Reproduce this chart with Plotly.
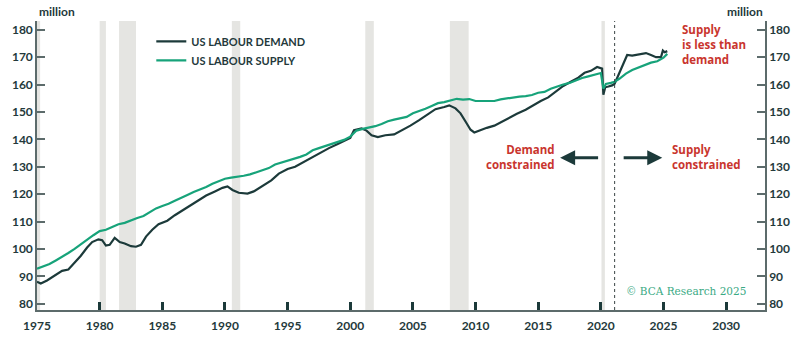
import plotly.graph_objects as go

# ---- data (million persons) ----
demand_years = [1975.0, 1975.3, 1975.8, 1976.5, 1977.0, 1977.5, 1978.0, 1978.5, 1979.0, 1979.4,
                1979.9, 1980.2, 1980.5, 1980.8, 1981.2, 1981.6, 1982.0, 1982.5, 1982.9, 1983.3,
                1983.7, 1984.2, 1984.7, 1985.4, 1986.0, 1986.6, 1987.2, 1987.9, 1988.5, 1989.2,
                1989.8, 1990.2, 1990.6, 1991.1, 1991.8, 1992.3, 1993.0, 1993.7, 1994.3, 1995.0,
                1995.6, 1996.2, 1996.9, 1997.6, 1998.3, 1999.0, 1999.6, 2000.0, 2000.3, 2000.9,
                2001.3, 2001.7, 2002.2, 2002.8, 2003.5, 2004.1, 2004.8, 2005.5, 2006.2, 2006.8,
                2007.5, 2007.9, 2008.4, 2008.8, 2009.2, 2009.6, 2009.9, 2010.3, 2010.9, 2011.5,
                2012.1, 2012.7, 2013.3, 2014.0, 2014.6, 2015.2, 2015.8, 2016.4, 2017.0, 2017.6,
                2018.2, 2018.7, 2019.2, 2019.7, 2019.95, 2020.1, 2020.2, 2020.35, 2020.6, 2020.9,
                2021.1, 2021.4, 2021.8, 2022.1, 2022.5, 2022.9, 2023.2, 2023.6, 2024.0, 2024.4,
                2024.8, 2024.95, 2025.1, 2025.3]
demand_values = [88.0, 87.4, 88.5, 90.5, 92.0, 92.5, 95.0, 97.5, 100.5, 102.5,
                 103.5, 103.2, 101.2, 101.5, 104.0, 102.5, 102.0, 101.0, 100.8, 101.5,
                 104.5, 107.0, 109.0, 110.3, 112.3, 114.0, 116.0, 117.8, 119.5, 121.0,
                 122.3, 122.8, 121.5, 120.5, 120.2, 121.0, 123.0, 125.0, 127.5, 129.2,
                 130.0, 131.5, 133.5, 135.2, 136.8, 138.3, 139.5, 140.5, 143.3, 144.0,
                 143.2, 141.5, 140.8, 141.5, 141.8, 143.2, 145.0, 147.0, 149.3, 151.0,
                 151.8, 152.4, 151.3, 149.5, 146.5, 143.5, 142.5, 143.3, 144.2, 145.0,
                 146.5, 148.0, 149.3, 150.8, 152.5, 154.0, 155.3, 157.5, 159.5, 161.0,
                 162.5, 164.3, 165.0, 166.4, 166.2, 165.8, 156.3, 159.0, 159.3, 159.7,
                 160.3, 163.5, 168.0, 170.8, 170.6, 170.9, 171.3, 171.5, 170.8, 170.0,
                 170.0, 172.4, 171.8, 172.2]

supply_years = [1975.0, 1975.5, 1976.0, 1976.5, 1977.0, 1977.5, 1978.0, 1978.5, 1979.0, 1979.5,
                1980.0, 1980.5, 1981.0, 1981.5, 1982.0, 1982.5, 1983.0, 1983.5, 1984.0, 1984.5,
                1985.0, 1985.5, 1986.0, 1986.5, 1987.0, 1987.5, 1988.0, 1988.5, 1989.0, 1989.5,
                1990.0, 1990.5, 1991.0, 1991.5, 1992.0, 1992.5, 1993.0, 1993.5, 1994.0, 1994.5,
                1995.0, 1995.5, 1996.0, 1996.5, 1997.0, 1997.5, 1998.0, 1998.5, 1999.0, 1999.5,
                2000.0, 2000.5, 2001.0, 2001.5, 2002.0, 2002.5, 2003.0, 2003.5, 2004.0, 2004.5,
                2005.0, 2005.5, 2006.0, 2006.5, 2007.0, 2007.5, 2008.0, 2008.5, 2009.0, 2009.5,
                2010.0, 2010.5, 2011.0, 2011.5, 2012.0, 2012.5, 2013.0, 2013.5, 2014.0, 2014.5,
                2015.0, 2015.5, 2016.0, 2016.5, 2017.0, 2017.5, 2018.0, 2018.5, 2019.0, 2019.5,
                2020.0, 2020.2, 2020.4, 2020.8, 2021.1, 2021.5, 2022.0, 2022.5, 2023.0, 2023.5,
                2024.0, 2024.5, 2025.0, 2025.3]
supply_values = [92.8, 93.8, 94.5, 95.8, 97.0, 98.5, 100.0, 101.7, 103.5, 105.0,
                 106.5, 107.0, 108.0, 109.0, 109.5, 110.5, 111.3, 112.0, 113.3, 114.8,
                 115.7, 116.5, 117.6, 118.8, 119.7, 120.8, 121.7, 122.6, 123.8, 124.8,
                 125.6, 126.0, 126.3, 126.7, 127.2, 128.0, 128.6, 129.5, 130.8, 131.5,
                 132.2, 132.8, 133.6, 134.5, 136.0, 136.8, 137.6, 138.2, 139.0, 139.8,
                 141.0, 143.2, 143.8, 144.2, 144.8, 145.6, 146.6, 147.2, 147.6, 148.2,
                 149.5, 150.3, 151.2, 152.2, 153.2, 153.6, 154.1, 154.8, 154.5, 154.7,
                 154.0, 154.0, 153.9, 154.0, 154.6, 155.0, 155.4, 155.6, 155.8, 156.2,
                 157.0, 157.3, 158.5, 159.3, 160.0, 160.6, 161.6, 162.4, 163.0, 163.6,
                 164.2, 158.5, 160.2, 160.6, 161.0, 162.2, 164.0, 165.3, 166.2, 167.3,
                 168.0, 168.5, 169.8, 171.2]

recession_starts = [1975.0, 1980.0, 1981.55, 1990.55, 2001.2, 2007.95, 2020.05]
recession_ends = [1975.25, 1980.5, 1982.9, 1991.22, 2001.88, 2009.45, 2020.32]

x_ticks = [1975, 1980, 1985, 1990, 1995, 2000, 2005, 2010, 2015, 2020, 2025, 2030]
y_ticks = [80, 90, 100, 110, 120, 130, 140, 150, 160, 170, 180]
forecast_divider = 2021.1

DARK = "#1c3a3a"
GREEN = "#17a37a"
RED = "#c9352e"
TICKTXT = "#24393b"
AXIS = "#5c6b6b"

fig = go.Figure()

fig.add_trace(go.Scatter(x=demand_years, y=demand_values, mode="lines",
                         name="US LABOUR DEMAND",
                         line=dict(color=DARK, width=2.2)))
fig.add_trace(go.Scatter(x=supply_years, y=supply_values, mode="lines",
                         name="US LABOUR SUPPLY",
                         line=dict(color=GREEN, width=2.2)))
# invisible trace to activate right-hand axis
fig.add_trace(go.Scatter(x=[x_ticks[0]], y=[y_ticks[0]], mode="markers",
                         yaxis="y2", showlegend=False, hoverinfo="skip",
                         marker=dict(opacity=0)))

shapes = []
for s, e in zip(recession_starts, recession_ends):
    shapes.append(dict(type="rect", xref="x", yref="paper", x0=s, x1=e, y0=0, y1=1,
                       fillcolor="#e5e5e2", line=dict(width=0), layer="below"))
shapes.append(dict(type="line", xref="x", yref="paper", x0=forecast_divider, x1=forecast_divider,
                   y0=0, y1=1, line=dict(color="#3a4545", width=1, dash="3px,3px")))
fig.update_layout(shapes=shapes)

tickfont = dict(family="Lato", size=12, color=TICKTXT, weight="bold")
redfont = dict(family="Open Sans", size=11.5, color=RED, weight="bold")

annotations = [
    dict(text="million", xref="paper", yref="paper", x=0, y=1.034, xanchor="left",
         yanchor="middle", showarrow=False, font=tickfont),
    dict(text="million", xref="paper", yref="paper", x=1, y=1.034, xanchor="right",
         yanchor="middle", showarrow=False, font=tickfont),
    dict(text="Supply<br>is less than<br>demand", xref="x", yref="y", x=2026.3, y=174.8,
         xanchor="left", yanchor="middle", align="left", showarrow=False, font=redfont),
    dict(text="Demand<br>constrained", xref="x", yref="y", x=2016.5, y=133.6,
         xanchor="right", yanchor="middle", align="right", showarrow=False, font=redfont),
    dict(text="Supply<br>constrained", xref="x", yref="y", x=2025.5, y=133.6,
         xanchor="left", yanchor="middle", align="left", showarrow=False, font=redfont),
    dict(x=2016.75, y=133.3, ax=2019.9, ay=133.3, xref="x", yref="y", axref="x", ayref="y",
         showarrow=True, arrowhead=2, arrowsize=1.0, arrowwidth=3, arrowcolor=DARK, text=""),
    dict(x=2024.9, y=133.3, ax=2021.7, ay=133.3, xref="x", yref="y", axref="x", ayref="y",
         showarrow=True, arrowhead=2, arrowsize=1.0, arrowwidth=3, arrowcolor=DARK, text=""),
    dict(text="© BCA Research 2025", xref="paper", yref="paper", x=0.977, y=0.065,
         xanchor="right", yanchor="middle", showarrow=False,
         font=dict(family="DejaVu Serif", size=10.5, color="#3aaa84")),
]
fig.update_layout(annotations=annotations)

fig.update_layout(
    width=802, height=345,
    margin=dict(l=36, r=31, t=21, b=26),
    plot_bgcolor="white", paper_bgcolor="white",
    showlegend=True,
    legend=dict(x=0.157, y=0.98, xanchor="left", yanchor="top",
                bgcolor="rgba(0,0,0,0)", itemwidth=30,
                font=dict(family="Lato", size=11, color=TICKTXT, weight="bold"),
                tracegroupgap=0),
    xaxis=dict(range=[1975, 2033.1], tickvals=x_ticks, ticks="inside", ticklen=8,
               tickwidth=3, tickcolor=DARK, showline=True, linecolor=AXIS, linewidth=1.5,
               showgrid=False, zeroline=False, tickfont=tickfont, ticklabelstandoff=4),
    yaxis=dict(range=[77.7, 183.2], tickvals=y_ticks, ticks="inside", ticklen=8,
               tickwidth=1.5, tickcolor=AXIS, showline=True, linecolor=AXIS, linewidth=1.5,
               showgrid=False, zeroline=False, tickfont=tickfont),
    yaxis2=dict(range=[77.7, 183.2], tickvals=y_ticks, ticks="inside", ticklen=8,
                tickwidth=1.5, tickcolor=AXIS, showline=True, linecolor=AXIS, linewidth=1.5,
                showgrid=False, zeroline=False, tickfont=tickfont, overlaying="y",
                side="right"),
)

fig.write_html("out.html")
